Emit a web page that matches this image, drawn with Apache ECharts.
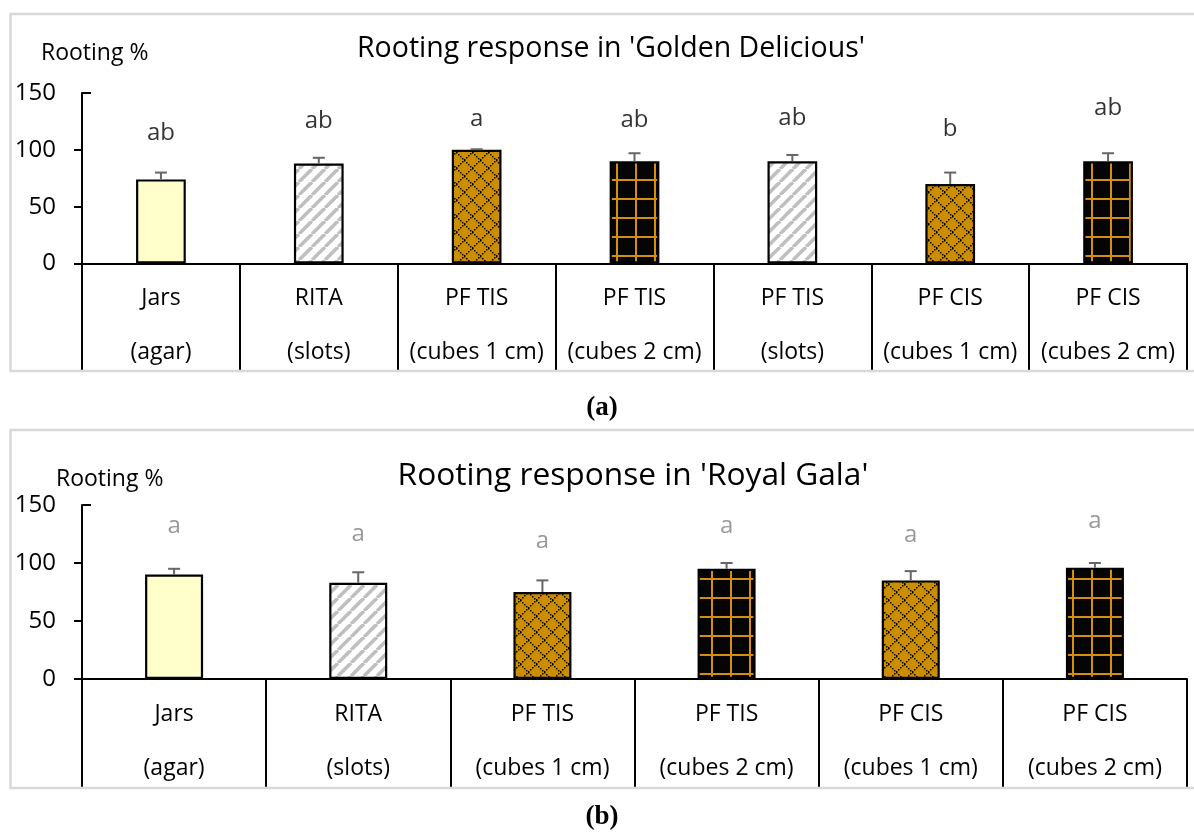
<!DOCTYPE html>
<html>
<head>
<meta charset="utf-8">
<title>Rooting response</title>
<script src="https://cdn.jsdelivr.net/npm/echarts@6/dist/echarts.min.js"></script>
<style>
  html, body { margin: 0; padding: 0; background: #fff; }
  #chart { width: 1194px; height: 835px; }
</style>
</head>
<body>
<div id="chart"></div>
<script>
// ---- data: 'Golden Delicious' (a) ----
const categoriesA = ['Jars\n(agar)', 'RITA\n(slots)', 'PF TIS\n(cubes 1 cm)', 'PF TIS\n(cubes 2 cm)', 'PF TIS\n(slots)', 'PF CIS\n(cubes 1 cm)', 'PF CIS\n(cubes 2 cm)'];
const rootingA = [74, 88, 100, 90, 90, 70, 90];
const errorA = [6, 5, 0.5, 7, 5.5, 10, 7];
const lettersA = ['ab', 'ab', 'a', 'ab', 'ab', 'b', 'ab'];
const letterLevelA = [115, 125, 127, 126, 128, 118, 137];
const fillA = ['plain', 'stripes', 'lattice', 'grid', 'stripes', 'lattice', 'grid'];

// ---- data: 'Royal Gala' (b) ----
const categoriesB = ['Jars\n(agar)', 'RITA\n(slots)', 'PF TIS\n(cubes 1 cm)', 'PF TIS\n(cubes 2 cm)', 'PF CIS\n(cubes 1 cm)', 'PF CIS\n(cubes 2 cm)'];
const rootingB = [90, 83, 75, 95, 85, 96];
const errorB = [5, 9, 10, 5, 8, 4];
const lettersB = ['a', 'a', 'a', 'a', 'a', 'a'];
const letterLevelB = [132, 125, 118.5, 132, 124, 136];
const fillB = ['plain', 'stripes', 'lattice', 'grid', 'lattice', 'grid'];

const yTicks = { min: 0, max: 150, step: 50 };
const yTickValues = [0, 50, 100, 150];

// ---- fill patterns ----
const FONT = '"Open Sans", "Noto Sans", sans-serif';
const SERIF = '"Liberation Serif", "DejaVu Serif", serif';
const GOLD = '#CC8E00';

function makeTile(size, draw) {
  const c = document.createElement('canvas');
  c.width = size; c.height = size;
  draw(c.getContext('2d'), size);
  return c;
}
const stripeTile = makeTile(13, (ctx, s) => {
  ctx.fillStyle = '#fff'; ctx.fillRect(0, 0, s, s);
  ctx.strokeStyle = '#BFBFBF'; ctx.lineWidth = 3.6;
  for (const o of [-s, 0, s]) {
    ctx.beginPath(); ctx.moveTo(o, s); ctx.lineTo(o + s, 0); ctx.stroke();
  }
});
const latticeTile = makeTile(16, (ctx, s) => {
  ctx.fillStyle = GOLD; ctx.fillRect(0, 0, s, s);
  ctx.fillStyle = '#000';
  for (let i = 0; i < s; i += 2) {
    ctx.fillRect(i, i, 1.5, 1.5);
    ctx.fillRect(i, s - 1 - i, 1.5, 1.5);
  }
});
const gridTile = makeTile(19, (ctx, s) => {
  ctx.fillStyle = '#050505'; ctx.fillRect(0, 0, s, s);
  ctx.fillStyle = '#D4900B';
  ctx.fillRect(8, 0, 2, s);
  ctx.fillRect(0, 8, s, 2);
});
const fills = {
  plain: '#FFFFCC',
  stripes: { image: stripeTile, repeat: 'repeat' },
  lattice: { image: latticeTile, repeat: 'repeat' },
  grid: { image: gridTile, repeat: 'repeat' }
};

// ---- builders ----
function categoryAxis(idx, cats) {
  return {
    type: 'category', gridIndex: idx, data: cats, boundaryGap: true,
    axisLine: { show: true, lineStyle: { color: '#000', width: 2 } },
    axisTick: { show: true, interval: 0, alignWithLabel: false, length: 108,
      lineStyle: { color: '#000', width: 2 } },
    axisLabel: {
      interval: 0, margin: 8,
      formatter: v => v.split('\n').map(t => '{c|' + t + '}').join('\n'),
      rich: { c: { fontFamily: FONT, fontSize: 23, lineHeight: 54, color: '#000' } }
    }
  };
}
// value axis: outward ticks on every value except the top one
function valueAxis(idx) {
  return {
    type: 'value', gridIndex: idx, position: 'left',
    min: yTicks.min, max: yTicks.max, interval: yTicks.step,
    axisLine: { show: true, lineStyle: { color: '#000', width: 2 } },
    axisTick: { show: true, length: 8, customValues: yTickValues.slice(0, -1),
      lineStyle: { color: '#000', width: 2 } },
    splitLine: { show: false },
    axisLabel: { fontFamily: FONT, fontSize: 24, color: '#000', margin: 26 }
  };
}
// the top tick of the value axis points into the plot
function topTickAxis(idx) {
  return {
    type: 'value', gridIndex: idx, position: 'left', offset: 0,
    min: yTicks.min, max: yTicks.max, interval: yTicks.step,
    axisLine: { show: false },
    axisTick: { show: true, inside: true, length: 9, customValues: yTickValues.slice(-1),
      lineStyle: { color: '#000', width: 2 } },
    splitLine: { show: false }, axisLabel: { show: false }
  };
}
function barSeries(idx, values, kinds) {
  return {
    type: 'bar', xAxisIndex: idx, yAxisIndex: idx * 2, barWidth: '31.5%',
    data: values.map((v, i) => ({
      value: v,
      itemStyle: { color: fills[kinds[i]], borderColor: '#000', borderWidth: 2.2 }
    })),
    silent: true, z: 2
  };
}
function errorSeries(idx, values, errs) {
  return {
    type: 'custom', xAxisIndex: idx, yAxisIndex: idx * 2, z: 3, silent: true,
    encode: { x: 0, y: 1 },
    data: values.map((v, i) => [i, v, errs[i]]),
    renderItem: (params, api) => {
      const i = api.value(0), m = api.value(1), e = api.value(2);
      const base = api.coord([i, m]);
      const top = api.coord([i, m + e]);
      const st = { stroke: '#666', lineWidth: 2 };
      return {
        type: 'group', children: [
          { type: 'line', shape: { x1: base[0], y1: base[1], x2: top[0], y2: top[1] }, style: st },
          { type: 'line', shape: { x1: top[0] - 6, y1: top[1], x2: top[0] + 6, y2: top[1] }, style: st }
        ]
      };
    }
  };
}
function letterSeries(idx, levels, letters, color) {
  return {
    type: 'scatter', xAxisIndex: idx, yAxisIndex: idx * 2, symbolSize: 0, silent: true, z: 4,
    data: levels.map((y, i) => [i, y]),
    label: {
      show: true, position: 'inside', formatter: p => letters[p.dataIndex],
      fontFamily: FONT, fontSize: 24, color: color
    }
  };
}
function panelTag(letter, top) {
  return {
    text: '{n|(}{b|' + letter + '}{n|)}', left: 597, top: top, textAlign: 'center',
    textStyle: { rich: {
      n: { fontFamily: SERIF, fontSize: 27, color: '#000' },
      b: { fontFamily: SERIF, fontSize: 27, fontWeight: 'bold', color: '#000' } } }
  };
}

const chart = echarts.init(document.getElementById('chart'), null, { renderer: 'canvas' });
chart.setOption({
  animation: false,
  backgroundColor: '#fff',
  title: [
    { text: "Rooting response in 'Golden Delicious'", left: 606, top: 29, textAlign: 'center',
      textStyle: { fontFamily: FONT, fontSize: 28.5, fontWeight: 'normal', color: '#000' } },
    { text: 'Rooting %', left: 36, top: 37,
      textStyle: { fontFamily: FONT, fontSize: 23, fontWeight: 'normal', color: '#000' } },
    { text: "Rooting response in 'Royal Gala'", left: 628, top: 455, textAlign: 'center',
      textStyle: { fontFamily: FONT, fontSize: 31.7, fontWeight: 'normal', color: '#000' } },
    { text: 'Rooting %', left: 51, top: 463,
      textStyle: { fontFamily: FONT, fontSize: 23, fontWeight: 'normal', color: '#000' } },
    panelTag('a', 390),
    panelTag('b', 799)
  ],
  grid: [
    { left: 82, top: 93, width: 1105, height: 170.5 },
    { left: 82, top: 505, width: 1105, height: 174 }
  ],
  xAxis: [categoryAxis(0, categoriesA), categoryAxis(1, categoriesB)],
  yAxis: [valueAxis(0), topTickAxis(0), valueAxis(1), topTickAxis(1)],
  series: [
    barSeries(0, rootingA, fillA),
    errorSeries(0, rootingA, errorA),
    letterSeries(0, letterLevelA, lettersA, '#000'),
    barSeries(1, rootingB, fillB),
    errorSeries(1, rootingB, errorB),
    letterSeries(1, letterLevelB, lettersB, '#7F7F7F')
  ],
  graphic: [
    { type: 'rect', z: 100, silent: true, shape: { x: 10.5, y: 14, width: 1200, height: 357 },
      style: { fill: 'none', stroke: '#D9D9D9', lineWidth: 2.5 } },
    { type: 'rect', z: 100, silent: true, shape: { x: 10.5, y: 430, width: 1200, height: 358 },
      style: { fill: 'none', stroke: '#D9D9D9', lineWidth: 2.5 } }
  ]
});
</script>
</body>
</html>
